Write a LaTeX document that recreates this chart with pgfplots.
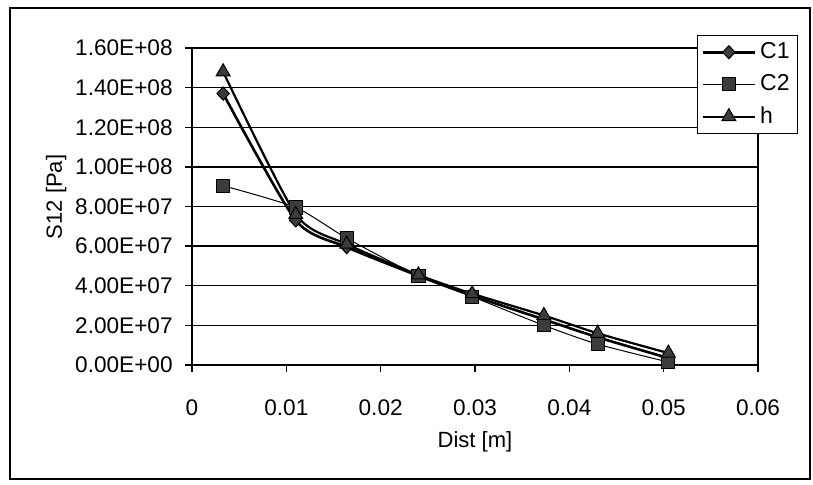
\documentclass[border=0pt]{standalone}
\usepackage{pgfplots}
\pgfplotsset{compat=1.18}
\usepackage{fontspec}
\setmainfont{Liberation Sans}
\definecolor{mk}{HTML}{3C3C3C}
\begin{document}
\begin{tikzpicture}
\useasboundingbox (0,0) rectangle (406.5pt,242pt);
\draw[line width=0.7pt] (5pt,2.5pt) rectangle (405pt,238pt);
\begin{axis}[
  at={(96pt,59.5pt)}, anchor=south west,
  scale only axis, width=283pt, height=158.5pt,
  xmin=0, xmax=0.06, ymin=0, ymax=1.6e8,
  axis line style={line width=0.8pt},
  xtick={0,0.01,0.02,0.03,0.04,0.05,0.06},
  xticklabels={0,0.01,0.02,0.03,0.04,0.05,0.06},
  ytick={0,2e7,4e7,6e7,8e7,1e8,1.2e8,1.4e8,1.6e8},
  yticklabels={0.00E+00,2.00E+07,4.00E+07,6.00E+07,8.00E+07,1.00E+08,1.20E+08,1.40E+08,1.60E+08},
  scaled ticks=false,
  tick align=outside, major tick length=3.5pt,
  xtick pos=bottom, ytick pos=left,
  tick style={black, line width=0.7pt},
  ymajorgrids, grid style={black, line width=0.7pt},
  ticklabel style={font=\fontsize{11.3}{13}\selectfont, inner sep=0pt},
  xticklabel style={anchor=base, yshift=-21.5pt},
  yticklabel style={anchor=east, xshift=-6pt},
  xlabel={Dist [m]}, ylabel={S12 [Pa]},
  label style={font=\fontsize{11}{13}\selectfont},
  xlabel style={at={(axis description cs:0.5,-0.243)}, anchor=center},
  ylabel style={at={(axis description cs:-0.24,0.53)}, anchor=center},
  legend style={at={(axis description cs:0.892,1.041)}, anchor=north west,
    draw=black, line width=0.7pt, fill=white, font=\fontsize{11.5}{13}\selectfont,
    inner xsep=2pt, inner ysep=1.5pt, row sep=2.5pt,
    cells={anchor=west}},
  legend image code/.code={\draw[mark repeat=2,mark phase=2] plot coordinates {(0pt,0pt) (13pt,0pt) (26pt,0pt)};},
]
\addplot[black, line width=1.3pt, smooth, tension=0.4, mark=diamond*, mark size=3.3pt,
  mark options={fill=mk, draw=black, line width=0.5pt, xscale=1.25}]
  coordinates {(0.0033,1.37e8) (0.011,7.3e7) (0.0164,5.95e7) (0.024,4.5e7) (0.0297,3.5e7) (0.0373,2.3e7) (0.043,1.4e7) (0.0505,0.35e7)};
\addlegendentry{C1}
\addplot[black, line width=0.5pt, smooth, tension=0.4, mark=square*, mark size=3.3pt,
  mark options={fill=mk, draw=black, line width=0.5pt}]
  coordinates {(0.0033,9.05e7) (0.011,7.95e7) (0.0164,6.4e7) (0.024,4.5e7) (0.0297,3.45e7) (0.0373,2.0e7) (0.043,1.05e7) (0.0505,0.15e7)};
\addlegendentry{C2}
\addplot[black, line width=1.1pt, smooth, tension=0.4, mark=triangle*, mark size=4pt,
  mark options={fill=mk, draw=black, line width=0.5pt}]
  coordinates {(0.0033,1.48e8) (0.011,7.6e7) (0.0164,6.1e7) (0.024,4.55e7) (0.0297,3.6e7) (0.0373,2.5e7) (0.043,1.6e7) (0.0505,0.6e7)};
\addlegendentry{h}
\end{axis}
\end{tikzpicture}
\end{document}
